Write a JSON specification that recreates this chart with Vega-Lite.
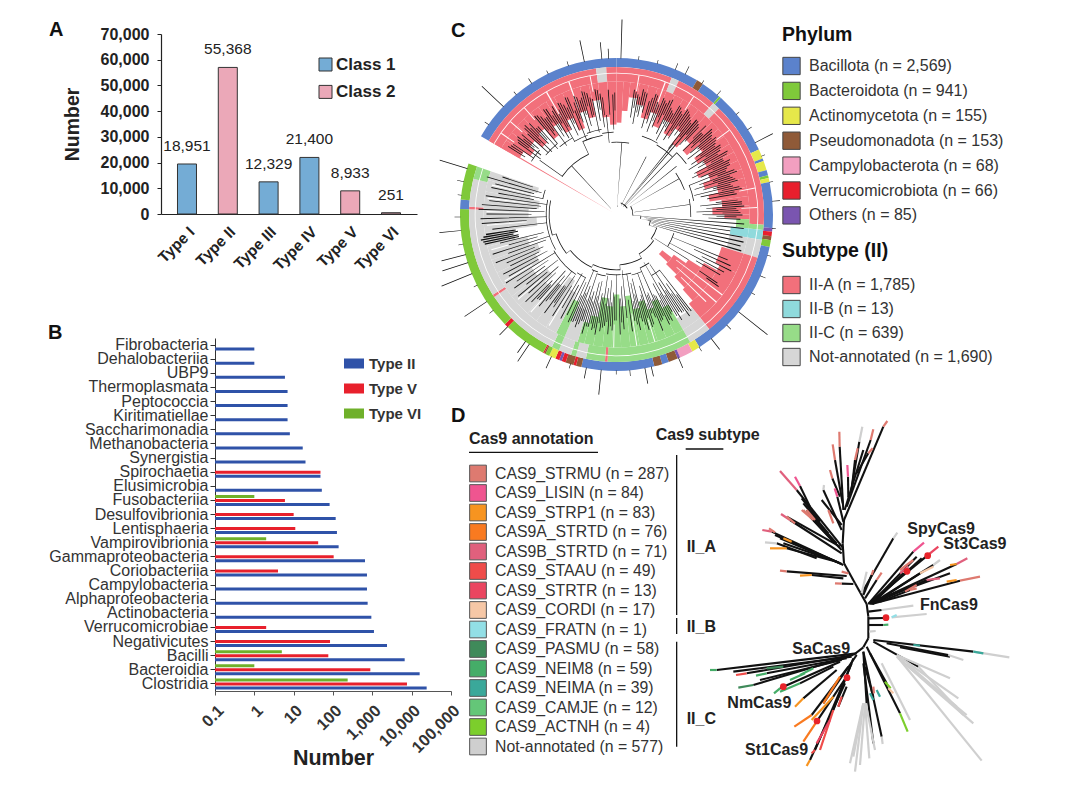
{"$schema":"https://vega.github.io/schema/vega-lite/v6.json","padding":{"left":48,"top":19,"right":0,"bottom":0},"columns":2,"spacing":0,"bounds":"flush","resolve":{"scale":{"color":"independent"},"legend":{"color":"independent"}},"config":{"font":"Liberation Sans","view":{"stroke":null},"legend":{"padding":0,"orient":"none"},"title":{"font":"Liberation Sans","fontSize":20,"fontWeight":"bold","color":"#111","anchor":"start","frame":"group"}},"concat":[
{"title":{"text":"A","dx":-112,"offset":-14},"width":256,"height":180,"data":{"values":[{"type":"Type I","cls":"Class 1","v":19450,"lab":"18,951"},{"type":"Type II","cls":"Class 2","v":57000,"lab":"55,368"},{"type":"Type III","cls":"Class 1","v":12500,"lab":"12,329"},{"type":"Type IV","cls":"Class 1","v":22000,"lab":"21,400"},{"type":"Type V","cls":"Class 2","v":9000,"lab":"8,933"},{"type":"Type VI","cls":"Class 2","v":500,"lab":"251"}]},"encoding":{"x":{"field":"type","type":"nominal","sort":null,"scale":{"paddingInner":0.534,"paddingOuter":0.404},"axis":{"title":null,"labelAngle":-45,"labelAlign":"right","labelBaseline":"top","labelFontWeight":"bold","labelFontSize":15.5,"labelColor":"#222","ticks":false,"labelPadding":10,"labelDx":2,"domainColor":"#222","domainWidth":1.2}},"y":{"field":"v","type":"quantitative","scale":{"domain":[0,70000],"nice":false},"axis":{"title":"Number","titleFontSize":19.5,"titleFontWeight":"bold","titleColor":"#222","titlePadding":18,"values":[0,10000,20000,30000,40000,50000,60000,70000],"labelExpr":"format(datum.value,',')","labelFontWeight":"bold","labelFontSize":16,"labelColor":"#222","grid":false,"tickSize":4,"tickColor":"#222","domainColor":"#222","domainWidth":1.2,"labelPadding":8}}},"layer":[{"mark":{"type":"bar","stroke":"#333","strokeWidth":1},"encoding":{"color":{"field":"cls","type":"nominal","scale":{"domain":["Class 1","Class 2"],"range":["#74acd5","#eba8b8"]},"legend":{"title":null,"legendX":156,"legendY":22,"symbolType":"square","symbolSize":169,"symbolStrokeColor":"#333","symbolStrokeWidth":1,"labelFontSize":17,"labelFontWeight":"bold","labelColor":"#222","labelOffset":2,"rowPadding":9.4}}}},{"mark":{"type":"text","baseline":"bottom","dy":-10,"fontSize":15.5,"color":"#222"},"encoding":{"text":{"field":"lab"}}}]},
{"title":{"text":"C","dx":0,"offset":-21},"width":331,"height":304,"encoding":{"x":{"datum":0,"type":"quantitative","scale":{"domain":[-165.5,165.5],"nice":false},"axis":null},"y":{"datum":0,"type":"quantitative","scale":{"domain":[-180.5,123.5],"nice":false,"reverse":true},"axis":null},"theta":{"field":"a","type":"quantitative","stack":null,"scale":{"domain":[0,360]}},"theta2":{"field":"b"},"radius":{"field":"r","type":"quantitative","scale":{"type":"linear","domain":[0,200],"range":[0,200]}},"radius2":{"field":"s"}},"resolve":{"scale":{"color":"independent"},"legend":{"color":"independent"}},"layer":[
{"data":{"values":[{"a":300,"b":360,"r":147.5,"s":156.5,"p":"Bacillota"},{"a":0,"b":31,"r":147.5,"s":156.5,"p":"Bacillota"},{"a":31,"b":33.5,"r":147.5,"s":156.5,"p":"Pseudomonadota"},{"a":33.5,"b":41,"r":147.5,"s":156.5,"p":"Bacillota"},{"a":41,"b":41.8,"r":147.5,"s":156.5,"p":"Bacteroidota"},{"a":41.8,"b":65.5,"r":147.5,"s":156.5,"p":"Bacillota"},{"a":65.5,"b":69,"r":147.5,"s":156.5,"p":"Actinomycetota"},{"a":69,"b":70,"r":147.5,"s":156.5,"p":"Bacillota"},{"a":70,"b":73.5,"r":147.5,"s":156.5,"p":"Actinomycetota"},{"a":73.5,"b":75.5,"r":147.5,"s":156.5,"p":"Bacillota"},{"a":75.5,"b":76.5,"r":147.5,"s":156.5,"p":"Bacteroidota"},{"a":76.5,"b":78,"r":147.5,"s":156.5,"p":"Actinomycetota"},{"a":78,"b":95,"r":147.5,"s":156.5,"p":"Bacillota"},{"a":95,"b":96.3,"r":147.5,"s":156.5,"p":"Others"},{"a":96.3,"b":98,"r":147.5,"s":156.5,"p":"Verrucomicrobiota"},{"a":98,"b":99.5,"r":147.5,"s":156.5,"p":"Pseudomonadota"},{"a":99.5,"b":102,"r":147.5,"s":156.5,"p":"Bacteroidota"},{"a":102,"b":148,"r":147.5,"s":156.5,"p":"Bacillota"},{"a":148,"b":151,"r":147.5,"s":156.5,"p":"Actinomycetota"},{"a":151,"b":156,"r":147.5,"s":156.5,"p":"Campylobacterota"},{"a":156,"b":157,"r":147.5,"s":156.5,"p":"Others"},{"a":157,"b":160.5,"r":147.5,"s":156.5,"p":"Pseudomonadota"},{"a":160.5,"b":163,"r":147.5,"s":156.5,"p":"Bacillota"},{"a":163,"b":166,"r":147.5,"s":156.5,"p":"Pseudomonadota"},{"a":166,"b":193,"r":147.5,"s":156.5,"p":"Bacillota"},{"a":193,"b":195,"r":147.5,"s":156.5,"p":"Pseudomonadota"},{"a":195,"b":196,"r":147.5,"s":156.5,"p":"Verrucomicrobiota"},{"a":196,"b":199,"r":147.5,"s":156.5,"p":"Pseudomonadota"},{"a":199,"b":200.5,"r":147.5,"s":156.5,"p":"Verrucomicrobiota"},{"a":200.5,"b":201.5,"r":147.5,"s":156.5,"p":"Others"},{"a":201.5,"b":203,"r":147.5,"s":156.5,"p":"Verrucomicrobiota"},{"a":203,"b":205.5,"r":147.5,"s":156.5,"p":"Actinomycetota"},{"a":205.5,"b":207,"r":147.5,"s":156.5,"p":"Bacteroidota"},{"a":207,"b":207.5,"r":147.5,"s":156.5,"p":"Pseudomonadota"},{"a":207.5,"b":208,"r":147.5,"s":156.5,"p":"Verrucomicrobiota"},{"a":208,"b":224,"r":147.5,"s":156.5,"p":"Bacteroidota"},{"a":224,"b":225.5,"r":147.5,"s":156.5,"p":"Verrucomicrobiota"},{"a":225.5,"b":272,"r":147.5,"s":156.5,"p":"Bacteroidota"},{"a":272,"b":275.5,"r":147.5,"s":156.5,"p":"Bacillota"},{"a":275.5,"b":289,"r":147.5,"s":156.5,"p":"Bacteroidota"}]},"mark":{"type":"arc"},"encoding":{"color":{"field":"p","type":"nominal","scale":{"domain":["Bacillota","Bacteroidota","Actinomycetota","Pseudomonadota","Campylobacterota","Verrucomicrobiota","Others"],"range":["#5b82cc","#7fc93a","#e6e84a","#8f5a38","#f29fc0","#e81f2d","#7a55b0"]},"legend":{"title":"Phylum","titleFontSize":19.5,"titleFontWeight":"bold","titleColor":"#111","titlePadding":11,"legendX":331,"legendY":-8,"symbolType":"square","symbolSize":300,"symbolStrokeColor":"#444","symbolStrokeWidth":1,"labelFontSize":16,"labelColor":"#333","labelOffset":8,"labelLimit":300,"rowPadding":1.9,"labelExpr":"{'Bacillota':'Bacillota (n = 2,569)','Bacteroidota':'Bacteroidota (n = 941)','Actinomycetota':'Actinomycetota (n = 155)','Pseudomonadota':'Pseudomonadota (n = 153)','Campylobacterota':'Campylobacterota (n = 68)','Verrucomicrobiota':'Verrucomicrobiota (n = 66)','Others':'Others (n = 85)'}[datum.label]"}}}},
{"data":{"values":[{"a":300,"b":352,"r":133,"s":147.5,"t":"II-A"},{"a":352,"b":356,"r":133,"s":147.5,"t":"Not-annotated"},{"a":356,"b":360,"r":133,"s":147.5,"t":"II-A"},{"a":0,"b":22,"r":133,"s":147.5,"t":"II-A"},{"a":22,"b":25,"r":133,"s":147.5,"t":"Not-annotated"},{"a":25,"b":41,"r":133,"s":147.5,"t":"II-A"},{"a":41,"b":44,"r":133,"s":147.5,"t":"Not-annotated"},{"a":44,"b":94,"r":133,"s":147.5,"t":"II-A"},{"a":94,"b":96,"r":133,"s":147.5,"t":"II-C"},{"a":96,"b":100,"r":133,"s":147.5,"t":"II-B"},{"a":100,"b":107,"r":133,"s":147.5,"t":"Not-annotated"},{"a":107,"b":141,"r":133,"s":147.5,"t":"II-A"},{"a":141,"b":150,"r":133,"s":147.5,"t":"Not-annotated"},{"a":150,"b":183.5,"r":133,"s":147.5,"t":"II-C"},{"a":183.5,"b":184.5,"r":133,"s":147.5,"t":"II-A"},{"a":184.5,"b":192,"r":133,"s":147.5,"t":"II-C"},{"a":192,"b":196,"r":133,"s":147.5,"t":"Not-annotated"},{"a":196,"b":198,"r":133,"s":147.5,"t":"II-C"},{"a":198,"b":203,"r":133,"s":147.5,"t":"Not-annotated"},{"a":203,"b":206,"r":133,"s":147.5,"t":"II-C"},{"a":206,"b":236,"r":133,"s":147.5,"t":"Not-annotated"},{"a":236,"b":237,"r":133,"s":147.5,"t":"II-A"},{"a":237,"b":272,"r":133,"s":147.5,"t":"Not-annotated"},{"a":272,"b":273,"r":133,"s":147.5,"t":"II-A"},{"a":273,"b":284,"r":133,"s":147.5,"t":"Not-annotated"},{"a":284,"b":289,"r":133,"s":147.5,"t":"II-C"},
{"a":300,"b":304,"r":112,"s":133,"t":"II-A"},{"a":304,"b":308,"r":104,"s":133,"t":"II-A"},{"a":308,"b":312,"r":110,"s":133,"t":"II-A"},{"a":312,"b":316,"r":100,"s":133,"t":"II-A"},{"a":316,"b":320,"r":112,"s":133,"t":"II-A"},{"a":320,"b":324,"r":98,"s":133,"t":"II-A"},{"a":324,"b":328,"r":108,"s":133,"t":"II-A"},{"a":328,"b":332,"r":96,"s":133,"t":"II-A"},{"a":332,"b":336,"r":106,"s":133,"t":"II-A"},{"a":336,"b":340,"r":92,"s":133,"t":"II-A"},{"a":340,"b":344,"r":108,"s":133,"t":"II-A"},{"a":344,"b":348,"r":100,"s":133,"t":"II-A"},{"a":348,"b":352,"r":116,"s":133,"t":"II-A"},{"a":352,"b":356,"r":98,"s":133,"t":"II-A"},{"a":356,"b":360,"r":90,"s":133,"t":"II-A"},{"a":0,"b":3,"r":92,"s":133,"t":"II-A"},{"a":3,"b":6,"r":104,"s":133,"t":"II-A"},{"a":6,"b":10,"r":118,"s":133,"t":"II-A"},{"a":10,"b":14,"r":112,"s":133,"t":"II-A"},{"a":14,"b":18,"r":100,"s":133,"t":"II-A"},{"a":18,"b":22,"r":108,"s":133,"t":"II-A"},{"a":22,"b":26,"r":96,"s":133,"t":"II-A"},{"a":26,"b":30,"r":106,"s":133,"t":"II-A"},{"a":30,"b":34,"r":94,"s":133,"t":"II-A"},{"a":34,"b":38,"r":104,"s":133,"t":"II-A"},{"a":38,"b":42,"r":90,"s":133,"t":"II-A"},{"a":42,"b":46,"r":102,"s":133,"t":"II-A"},{"a":46,"b":50,"r":92,"s":133,"t":"II-A"},{"a":50,"b":54,"r":106,"s":133,"t":"II-A"},{"a":54,"b":58,"r":96,"s":133,"t":"II-A"},{"a":58,"b":62,"r":102,"s":133,"t":"II-A"},{"a":62,"b":66,"r":90,"s":133,"t":"II-A"},{"a":66,"b":70,"r":100,"s":133,"t":"II-A"},{"a":70,"b":74,"r":92,"s":133,"t":"II-A"},{"a":74,"b":78,"r":104,"s":133,"t":"II-A"},{"a":78,"b":82,"r":94,"s":133,"t":"II-A"},{"a":82,"b":86,"r":106,"s":133,"t":"II-A"},{"a":86,"b":90,"r":96,"s":133,"t":"II-A"},{"a":90,"b":92,"r":108,"s":133,"t":"II-A"},{"a":92,"b":96,"r":120,"s":133,"t":"II-C"},{"a":96,"b":100,"r":115,"s":133,"t":"II-B"},{"a":100,"b":107,"r":115,"s":133,"t":"Not-annotated"},{"a":107,"b":116,"r":110,"s":133,"t":"II-A"},{"a":128,"b":133,"r":58,"s":70,"t":"II-A"},{"a":125,"b":135,"r":70,"s":85,"t":"II-A"},{"a":122,"b":137,"r":85,"s":100,"t":"II-A"},{"a":119,"b":138.5,"r":100,"s":115,"t":"II-A"},{"a":116,"b":141,"r":115,"s":133,"t":"II-A"},{"a":141,"b":150,"r":120,"s":133,"t":"Not-annotated"},{"a":150,"b":154,"r":104,"s":133,"t":"II-C"},{"a":154,"b":158,"r":94,"s":133,"t":"II-C"},{"a":158,"b":162,"r":100,"s":133,"t":"II-C"},{"a":162,"b":166,"r":90,"s":133,"t":"II-C"},{"a":166,"b":170,"r":96,"s":133,"t":"II-C"},{"a":170,"b":174,"r":82,"s":133,"t":"II-C"},{"a":174,"b":178,"r":92,"s":133,"t":"II-C"},{"a":178,"b":182,"r":80,"s":133,"t":"II-C"},{"a":182,"b":186,"r":92,"s":133,"t":"II-C"},{"a":186,"b":190,"r":84,"s":133,"t":"II-C"},{"a":190,"b":194,"r":104,"s":133,"t":"II-C"},{"a":194,"b":197,"r":112,"s":133,"t":"II-C"},{"a":197,"b":203,"r":100,"s":133,"t":"Not-annotated"},{"a":203,"b":207,"r":95,"s":133,"t":"II-C"},{"a":207,"b":212,"r":88,"s":133,"t":"Not-annotated"},{"a":212,"b":217,"r":78,"s":133,"t":"Not-annotated"},{"a":217,"b":222,"r":90,"s":133,"t":"Not-annotated"},{"a":222,"b":227,"r":98,"s":133,"t":"Not-annotated"},{"a":227,"b":232,"r":88,"s":133,"t":"Not-annotated"},{"a":232,"b":238,"r":100,"s":133,"t":"Not-annotated"},{"a":238,"b":244,"r":90,"s":133,"t":"Not-annotated"},{"a":244,"b":250,"r":84,"s":133,"t":"Not-annotated"},{"a":250,"b":256,"r":92,"s":133,"t":"Not-annotated"},{"a":256,"b":262,"r":104,"s":133,"t":"Not-annotated"},{"a":262,"b":268,"r":80,"s":133,"t":"Not-annotated"},{"a":268,"b":274,"r":88,"s":133,"t":"Not-annotated"},{"a":274,"b":280,"r":78,"s":133,"t":"Not-annotated"},{"a":280,"b":285,"r":88,"s":133,"t":"Not-annotated"},{"a":285,"b":289,"r":82,"s":133,"t":"Not-annotated"},
{"a":300,"b":300.6,"r":5,"s":147,"t":"II-A"},
{"a":300,"b":360,"r":141,"s":141.8,"t":"White"},{"a":0,"b":289,"r":141,"s":141.8,"t":"White"},{"a":127,"b":127.5,"r":75,"s":133,"t":"White"},{"a":131,"b":131.5,"r":80,"s":133,"t":"White"},{"a":134,"b":134.5,"r":90,"s":125,"t":"White"},{"a":211,"b":211.5,"r":90,"s":130,"t":"White"},{"a":221,"b":221.5,"r":90,"s":130,"t":"White"},{"a":229,"b":229.5,"r":98,"s":130,"t":"White"},{"a":239,"b":239.5,"r":98,"s":130,"t":"White"},{"a":248,"b":248.5,"r":90,"s":128,"t":"White"},{"a":254,"b":254.5,"r":90,"s":130,"t":"White"},{"a":265,"b":265.5,"r":90,"s":130,"t":"White"},{"a":271,"b":271.5,"r":85,"s":130,"t":"White"},{"a":277,"b":277.5,"r":90,"s":130,"t":"White"},{"a":283,"b":283.5,"r":85,"s":128,"t":"White"},{"a":305,"b":305.4,"r":125,"s":141,"t":"White"},{"a":311,"b":311.4,"r":125,"s":141,"t":"White"},{"a":319,"b":319.4,"r":125,"s":141,"t":"White"},{"a":330,"b":330.5,"r":112,"s":141,"t":"White"},{"a":340,"b":340.5,"r":112,"s":141,"t":"White"},{"a":349,"b":349.4,"r":125,"s":141,"t":"White"},{"a":9,"b":9.4,"r":125,"s":141,"t":"White"},{"a":20,"b":20.5,"r":112,"s":141,"t":"White"},{"a":33,"b":33.4,"r":125,"s":141,"t":"White"},{"a":53,"b":53.4,"r":125,"s":141,"t":"White"},{"a":79,"b":79.4,"r":125,"s":141,"t":"White"},{"a":87,"b":87.4,"r":125,"s":141,"t":"White"},{"a":163,"b":163.4,"r":110,"s":133,"t":"White"},{"a":171,"b":171.4,"r":100,"s":133,"t":"White"},{"a":181,"b":181.4,"r":110,"s":133,"t":"White"}]},"mark":{"type":"arc"},"encoding":{"color":{"field":"t","type":"nominal","scale":{"domain":["II-A","II-B","II-C","Not-annotated","White"],"range":["#f2707b","#8fdadc","#97dc88","#d6d6d6","#ffffff"]},"legend":{"title":"Subtype (II)","values":["II-A","II-B","II-C","Not-annotated"],"titleFontSize":19.5,"titleFontWeight":"bold","titleColor":"#111","titlePadding":14,"legendX":331,"legendY":208,"symbolType":"square","symbolSize":300,"symbolStrokeColor":"#444","symbolStrokeWidth":1,"labelFontSize":16,"labelColor":"#333","labelOffset":8,"labelLimit":300,"rowPadding":1,"labelExpr":"{'II-A':'II-A (n = 1,785)','II-B':'II-B (n = 13)','II-C':'II-C (n = 639)','Not-annotated':'Not-annotated (n = 1,690)'}[datum.label]"}}}},
{"data":{"values":[{"a":317,"b":317.5,"r":8,"s":66},{"a":305,"b":335,"r":66,"s":66.8},{"a":305,"b":305.4,"r":66,"s":94},{"a":335,"b":335.4,"r":66,"s":80},{"a":335,"b":350,"r":80,"s":80.8},{"a":4,"b":4.5,"r":8,"s":72},{"a":356,"b":360,"r":72,"s":72.8},{"a":0,"b":10,"r":72,"s":72.8},{"a":27,"b":27.5,"r":10,"s":65},{"a":38.5,"b":39,"r":10,"s":91},{"a":40,"b":40.5,"r":10,"s":124},{"a":44,"b":44.5,"r":12,"s":86},{"a":51,"b":51.5,"r":12,"s":77},{"a":60,"b":60.5,"r":14,"s":72},{"a":82,"b":82.5,"r":18,"s":74},{"a":6,"b":10,"r":8,"s":8.8},{"a":20,"b":60,"r":12,"s":12.8},{"a":60,"b":93,"r":16,"s":16.8},{"a":93,"b":100,"r":24,"s":24.8},{"a":93,"b":93.5,"r":16,"s":24},{"a":100,"b":100.4,"r":24,"s":34},{"a":100,"b":108,"r":34,"s":34.8},{"a":108,"b":108.4,"r":34,"s":42},{"a":108,"b":125,"r":42,"s":42.8},{"a":125,"b":125.4,"r":42,"s":45},{"a":125,"b":150,"r":45,"s":45.8},{"a":150,"b":150.4,"r":45,"s":50},{"a":150,"b":176,"r":50,"s":50.8},{"a":176,"b":176.4,"r":50,"s":55},{"a":176,"b":205,"r":55,"s":55.8},{"a":205,"b":205.4,"r":55,"s":58},{"a":205,"b":232,"r":58,"s":58.8},{"a":232,"b":232.4,"r":58,"s":63},{"a":232,"b":252,"r":63,"s":63.8},{"a":252,"b":252.4,"r":63,"s":67},{"a":252,"b":282,"r":67,"s":67.8},
{"a":302,"b":310,"r":100,"s":100.7},{"a":310,"b":320,"r":92,"s":92.7},{"a":320,"b":330,"r":88,"s":88.7},{"a":330,"b":340,"r":84,"s":84.7},{"a":340,"b":350,"r":86,"s":86.7},{"a":350,"b":358,"r":82,"s":82.7},{"a":18,"b":30,"r":82,"s":82.7},{"a":30,"b":44,"r":80,"s":80.7},{"a":44,"b":54,"r":86,"s":86.7},{"a":55,"b":70,"r":72,"s":72.7},{"a":68,"b":80,"r":78,"s":78.7},{"a":78,"b":92,"r":74,"s":74.7},{"a":108,"b":122,"r":60,"s":60.7},{"a":142,"b":150,"r":70,"s":70.7},{"a":146,"b":156,"r":58,"s":58.7},{"a":156,"b":166,"r":62,"s":62.7},{"a":166,"b":175,"r":60,"s":60.7},{"a":176,"b":190,"r":60,"s":60.7},{"a":190,"b":198,"r":62,"s":62.7},{"a":198,"b":204,"r":60,"s":60.7},{"a":206,"b":214,"r":70,"s":70.7},{"a":214,"b":225,"r":72,"s":72.7},{"a":225,"b":240,"r":72,"s":72.7},{"a":240,"b":252,"r":70,"s":70.7},{"a":252,"b":262,"r":70,"s":70.7},{"a":262,"b":272,"r":70,"s":70.7},{"a":272,"b":282,"r":70,"s":70.7},{"a":282,"b":289,"r":75,"s":75.7},
{"a":302,"b":302.4,"r":108,"s":128},{"a":304,"b":304.4,"r":100,"s":125},{"a":306,"b":306.4,"r":94,"s":122},{"a":308,"b":308.4,"r":96,"s":126},{"a":310,"b":310.4,"r":102,"s":124},{"a":312,"b":312.4,"r":92,"s":120},{"a":314,"b":314.4,"r":90,"s":128},{"a":316,"b":316.4,"r":98,"s":126},{"a":318,"b":318.4,"r":88,"s":118},{"a":320,"b":320.4,"r":92,"s":128},{"a":322,"b":322.4,"r":100,"s":124},{"a":324,"b":324.4,"r":85,"s":120},{"a":326,"b":326.4,"r":94,"s":127},{"a":328,"b":328.4,"r":90,"s":122},{"a":330,"b":330.4,"r":84,"s":116},{"a":332,"b":332.4,"r":96,"s":126},{"a":334,"b":334.4,"r":88,"s":122},{"a":336,"b":336.4,"r":92,"s":128},{"a":338,"b":338.4,"r":80,"s":112},{"a":340,"b":340.4,"r":98,"s":126},{"a":342,"b":342.4,"r":86,"s":120},{"a":344,"b":344.4,"r":92,"s":128},{"a":346,"b":346.4,"r":100,"s":125},{"a":348,"b":348.4,"r":84,"s":118},{"a":350,"b":350.4,"r":95,"s":127},{"a":352,"b":352.4,"r":88,"s":122},{"a":354,"b":354.4,"r":72,"s":100},{"a":356,"b":356.4,"r":100,"s":125},{"a":358,"b":358.4,"r":85,"s":120},
{"a":303,"b":303.35,"r":112,"s":126},{"a":307,"b":307.35,"r":110,"s":124},{"a":309,"b":309.35,"r":106,"s":120},{"a":313,"b":313.35,"r":104,"s":126},{"a":315,"b":315.35,"r":110,"s":122},{"a":317,"b":317.35,"r":102,"s":118},{"a":321,"b":321.35,"r":108,"s":127},{"a":323,"b":323.35,"r":104,"s":120},{"a":325,"b":325.35,"r":112,"s":128},{"a":327,"b":327.35,"r":100,"s":118},{"a":329,"b":329.35,"r":106,"s":126},{"a":331,"b":331.35,"r":100,"s":120},{"a":333,"b":333.35,"r":108,"s":125},{"a":335,"b":335.35,"r":100,"s":118},{"a":337,"b":337.35,"r":110,"s":127},{"a":339,"b":339.35,"r":102,"s":120},{"a":341,"b":341.35,"r":108,"s":124},{"a":343,"b":343.35,"r":104,"s":122},{"a":345,"b":345.35,"r":112,"s":127},{"a":347,"b":347.35,"r":102,"s":120},{"a":351,"b":351.35,"r":106,"s":126},{"a":353,"b":353.35,"r":100,"s":118},{"a":359,"b":359.35,"r":104,"s":122},{"a":9,"b":9.35,"r":108,"s":124},{"a":11,"b":11.35,"r":104,"s":120},{"a":13,"b":13.35,"r":110,"s":126},{"a":17,"b":17.35,"r":104,"s":122},{"a":19,"b":19.35,"r":108,"s":126},{"a":21,"b":21.35,"r":100,"s":118},{"a":23,"b":23.35,"r":106,"s":124},{"a":25,"b":25.35,"r":110,"s":126},{"a":27,"b":27.35,"r":102,"s":120},{"a":29,"b":29.35,"r":100,"s":116},{"a":31,"b":31.35,"r":106,"s":125},{"a":33,"b":33.35,"r":100,"s":120},{"a":35,"b":35.35,"r":108,"s":126},{"a":37,"b":37.35,"r":104,"s":122},{"a":39,"b":39.35,"r":100,"s":118},{"a":41,"b":41.35,"r":106,"s":124},{"a":43,"b":43.35,"r":100,"s":120},{"a":45,"b":45.35,"r":108,"s":126},{"a":47,"b":47.35,"r":104,"s":118},{"a":49,"b":49.35,"r":110,"s":126},{"a":51,"b":51.35,"r":104,"s":122},{"a":53,"b":53.35,"r":108,"s":124},{"a":55,"b":55.35,"r":102,"s":120},{"a":57,"b":57.35,"r":106,"s":124},{"a":59,"b":59.35,"r":100,"s":118},{"a":61,"b":61.35,"r":108,"s":126},{"a":63,"b":63.35,"r":102,"s":120},{"a":65,"b":65.35,"r":106,"s":124},{"a":67,"b":67.35,"r":100,"s":120},{"a":69,"b":69.35,"r":108,"s":126},{"a":71,"b":71.35,"r":102,"s":120},{"a":73,"b":73.35,"r":106,"s":124},{"a":75,"b":75.35,"r":100,"s":118},{"a":77,"b":77.35,"r":108,"s":126},{"a":79,"b":79.35,"r":104,"s":120},{"a":83,"b":83.35,"r":100,"s":122},{"a":85,"b":85.35,"r":106,"s":126},{"a":87,"b":87.35,"r":100,"s":120},{"a":89,"b":89.35,"r":106,"s":124},{"a":91,"b":91.35,"r":100,"s":120},{"a":143,"b":143.35,"r":100,"s":120},{"a":145,"b":145.35,"r":96,"s":118},{"a":147,"b":147.35,"r":90,"s":116},{"a":149,"b":149.35,"r":94,"s":118},{"a":151,"b":151.35,"r":90,"s":114},{"a":153,"b":153.35,"r":96,"s":118},{"a":155,"b":155.35,"r":88,"s":112},{"a":157,"b":157.35,"r":92,"s":116},{"a":159,"b":159.35,"r":86,"s":110},{"a":161,"b":161.35,"r":94,"s":116},{"a":163,"b":163.35,"r":84,"s":108},{"a":165,"b":165.35,"r":90,"s":114},{"a":167,"b":167.35,"r":82,"s":106},{"a":169,"b":169.35,"r":88,"s":112},{"a":177,"b":177.35,"r":84,"s":108},{"a":181,"b":181.35,"r":82,"s":106},{"a":183,"b":183.35,"r":88,"s":112},{"a":185,"b":185.35,"r":84,"s":108},{"a":187,"b":187.35,"r":90,"s":114},{"a":189,"b":189.35,"r":84,"s":110},{"a":191,"b":191.35,"r":90,"s":116},{"a":193,"b":193.35,"r":84,"s":112},{"a":195,"b":195.35,"r":90,"s":116},{"a":197,"b":197.35,"r":86,"s":112},{"a":199,"b":199.35,"r":90,"s":116},{"a":201,"b":201.35,"r":84,"s":114},{"a":203,"b":203.35,"r":88,"s":116},{"a":215,"b":215.35,"r":88,"s":108},{"a":219,"b":219.35,"r":90,"s":112},{"a":223,"b":223.35,"r":96,"s":116},
{"a":8,"b":8.4,"r":98,"s":126},{"a":10,"b":10.4,"r":92,"s":122},{"a":12,"b":12.4,"r":100,"s":128},{"a":14,"b":14.4,"r":105,"s":125},{"a":16,"b":16.4,"r":90,"s":118},{"a":18,"b":18.4,"r":96,"s":127},{"a":20,"b":20.4,"r":88,"s":120},{"a":22,"b":22.4,"r":94,"s":126},{"a":24,"b":24.4,"r":100,"s":122},{"a":26,"b":26.4,"r":90,"s":128},{"a":28,"b":28.4,"r":84,"s":118},{"a":30,"b":30.4,"r":96,"s":126},{"a":32,"b":32.4,"r":88,"s":122},{"a":34,"b":34.4,"r":92,"s":127},{"a":36,"b":36.4,"r":98,"s":124},{"a":38,"b":38.4,"r":84,"s":120},{"a":42,"b":42.4,"r":94,"s":122},{"a":46,"b":46.4,"r":92,"s":118},{"a":48,"b":48.4,"r":100,"s":128},{"a":50,"b":50.4,"r":96,"s":124},{"a":52,"b":52.4,"r":90,"s":126},{"a":54,"b":54.4,"r":98,"s":122},
{"a":56,"b":56.4,"r":90,"s":125},{"a":58,"b":58.4,"r":85,"s":122},{"a":60,"b":60.4,"r":94,"s":128},{"a":62,"b":62.4,"r":88,"s":120},{"a":64,"b":64.4,"r":84,"s":126},{"a":66,"b":66.4,"r":92,"s":124},{"a":68,"b":68.4,"r":78,"s":118},{"a":70,"b":70.4,"r":88,"s":128},{"a":72,"b":72.4,"r":82,"s":122},{"a":74,"b":74.4,"r":90,"s":126},{"a":76,"b":76.4,"r":80,"s":120},{"a":78,"b":78.4,"r":86,"s":128},{"a":80,"b":80.4,"r":92,"s":122},{"a":84,"b":84.4,"r":84,"s":126},{"a":86,"b":86.4,"r":90,"s":128},{"a":88,"b":88.4,"r":80,"s":122},{"a":90,"b":90.4,"r":86,"s":126},{"a":92,"b":92.4,"r":92,"s":124},
{"a":94,"b":94.5,"r":25,"s":128},{"a":96,"b":96.5,"r":28,"s":128},{"a":98,"b":98.4,"r":30,"s":115},{"a":100,"b":100.5,"r":32,"s":128},{"a":102,"b":102.5,"r":34,"s":130},{"a":104,"b":104.5,"r":36,"s":128},{"a":106,"b":106.5,"r":38,"s":130},
{"a":112,"b":112.4,"r":60,"s":120},{"a":114,"b":114.4,"r":85,"s":125},{"a":116,"b":116.4,"r":95,"s":128},{"a":118,"b":118.4,"r":60,"s":122},{"a":120,"b":120.4,"r":92,"s":120},{"a":122,"b":122.4,"r":45,"s":85},{"a":124,"b":124.4,"r":100,"s":122},{"a":125,"b":125.4,"r":110,"s":125},
{"a":142,"b":142.4,"r":70,"s":122},{"a":144,"b":144.4,"r":85,"s":125},{"a":146,"b":146.4,"r":60,"s":118},{"a":148,"b":148.4,"r":80,"s":124},{"a":150,"b":150.4,"r":55,"s":112},{"a":152,"b":152.4,"r":78,"s":120},{"a":154,"b":154.4,"r":90,"s":122},{"a":156,"b":156.4,"r":58,"s":115},{"a":158,"b":158.4,"r":84,"s":125},{"a":160,"b":160.4,"r":62,"s":105},{"a":162,"b":162.4,"r":75,"s":118},{"a":164,"b":164.4,"r":88,"s":120},{"a":166,"b":166.4,"r":66,"s":110},{"a":168,"b":168.4,"r":70,"s":118},{"a":170,"b":170.4,"r":60,"s":108},{"a":172,"b":172.4,"r":86,"s":118},{"a":174,"b":174.4,"r":56,"s":104},{"a":176,"b":176.4,"r":72,"s":115},{"a":178,"b":178.4,"r":84,"s":120},{"a":180,"b":180.4,"r":60,"s":106},{"a":182,"b":182.4,"r":78,"s":116},{"a":184,"b":184.4,"r":66,"s":120},{"a":186,"b":186.4,"r":74,"s":112},{"a":188,"b":188.4,"r":62,"s":118},{"a":190,"b":190.4,"r":80,"s":122},{"a":192,"b":192.4,"r":68,"s":118},{"a":194,"b":194.4,"r":70,"s":116},{"a":196,"b":196.4,"r":80,"s":124},{"a":198,"b":198.4,"r":62,"s":112},{"a":200,"b":200.4,"r":76,"s":120},{"a":202,"b":202.4,"r":60,"s":116},{"a":204,"b":204.4,"r":74,"s":118},
{"a":206,"b":206.4,"r":70,"s":112},{"a":208,"b":208.4,"r":80,"s":118},{"a":210,"b":210.4,"r":68,"s":108},{"a":212,"b":212.4,"r":84,"s":120},{"a":214,"b":214.4,"r":74,"s":112},{"a":216,"b":216.4,"r":88,"s":122},{"a":218,"b":218.4,"r":72,"s":108},{"a":220,"b":220.4,"r":80,"s":120},{"a":222,"b":222.4,"r":76,"s":115},{"a":224,"b":224.4,"r":92,"s":122},{"a":226,"b":226.4,"r":84,"s":126},{"a":228,"b":228.4,"r":78,"s":118},{"a":230,"b":230.4,"r":90,"s":128},{"a":232,"b":232.4,"r":74,"s":114},{"a":234,"b":234.4,"r":88,"s":126},{"a":236,"b":236.4,"r":82,"s":120},{"a":238,"b":238.4,"r":72,"s":130},{"a":240,"b":240.4,"r":90,"s":124},{"a":242,"b":242.4,"r":78,"s":128},{"a":244,"b":244.4,"r":86,"s":118},{"a":246,"b":246.4,"r":80,"s":120},{"a":248,"b":248.4,"r":88,"s":130},{"a":250,"b":250.4,"r":75,"s":115},{"a":252,"b":252.4,"r":70,"s":130},{"a":254,"b":254.4,"r":82,"s":112},{"a":256,"b":256.4,"r":75,"s":120},{"a":257,"b":257.6,"r":100,"s":135},{"a":258,"b":258.6,"r":100,"s":136},{"a":259,"b":259.6,"r":105,"s":138},{"a":260,"b":260.6,"r":100,"s":135},{"a":261,"b":261.6,"r":102,"s":132},{"a":263,"b":263.4,"r":70,"s":125},{"a":266,"b":266.4,"r":90,"s":135},{"a":268,"b":268.4,"r":70,"s":136},{"a":270,"b":270.4,"r":85,"s":130},{"a":272,"b":272.4,"r":72,"s":138},{"a":274,"b":274.4,"r":80,"s":135},{"a":276,"b":276.4,"r":76,"s":128},{"a":278,"b":278.4,"r":70,"s":132},{"a":280,"b":280.4,"r":84,"s":120},{"a":282,"b":282.4,"r":75,"s":128},{"a":284,"b":284.4,"r":85,"s":125},{"a":286,"b":286.4,"r":78,"s":135},{"a":288,"b":288.4,"r":88,"s":120},
{"a":1.5,"b":1.75,"r":156,"s":195},{"a":354.5,"b":354.75,"r":156,"s":173},{"a":348,"b":348.25,"r":156,"s":178},{"a":357,"b":357.25,"r":156,"s":166},{"a":313.5,"b":313.75,"r":156,"s":186},{"a":62.5,"b":62.75,"r":156,"s":176},{"a":85,"b":85.25,"r":156,"s":164},{"a":128.4,"b":128.65,"r":156,"s":193},{"a":142.5,"b":142.75,"r":156,"s":170},{"a":185.5,"b":185.75,"r":156,"s":181},{"a":169.4,"b":169.65,"r":156,"s":172},{"a":167,"b":167.25,"r":156,"s":166},{"a":156.5,"b":156.75,"r":156,"s":167},{"a":191,"b":191.25,"r":156,"s":167},{"a":204.5,"b":204.75,"r":156,"s":169},{"a":213.8,"b":214.05,"r":156,"s":177},{"a":215.5,"b":215.75,"r":156,"s":170},{"a":224,"b":224.25,"r":156,"s":168},{"a":236,"b":236.25,"r":156,"s":183},{"a":247.6,"b":247.85,"r":156,"s":189},{"a":251.9,"b":252.15,"r":156,"s":183},{"a":255,"b":255.25,"r":156,"s":181},{"a":264,"b":264.25,"r":156,"s":178},{"a":287,"b":287.25,"r":156,"s":185},
{"a":305,"b":305.2,"r":156,"s":161},{"a":320,"b":320.2,"r":156,"s":160},{"a":327,"b":327.2,"r":156,"s":162},{"a":334,"b":334.2,"r":156,"s":160},{"a":342,"b":342.2,"r":156,"s":161},{"a":8,"b":8.2,"r":156,"s":160},{"a":15,"b":15.2,"r":156,"s":160},{"a":22,"b":22.2,"r":156,"s":163},{"a":26,"b":26.2,"r":156,"s":165},{"a":33,"b":33.2,"r":156,"s":160},{"a":40,"b":40.2,"r":156,"s":162},{"a":50,"b":50.2,"r":156,"s":160},{"a":57,"b":57.2,"r":156,"s":161},{"a":68,"b":68.2,"r":156,"s":160},{"a":78,"b":78.2,"r":156,"s":160},{"a":95,"b":95.2,"r":156,"s":160},{"a":105,"b":105.2,"r":156,"s":160},{"a":113,"b":113.2,"r":156,"s":162},{"a":120,"b":120.2,"r":156,"s":160},{"a":135,"b":135.2,"r":156,"s":162},{"a":148,"b":148.2,"r":156,"s":161},{"a":175,"b":175.2,"r":156,"s":162},{"a":180,"b":180.2,"r":156,"s":160},{"a":197,"b":197.2,"r":156,"s":161},{"a":232,"b":232.2,"r":156,"s":161},{"a":243,"b":243.2,"r":156,"s":160},{"a":259,"b":259.2,"r":156,"s":161},{"a":269,"b":269.2,"r":156,"s":162},{"a":277,"b":277.2,"r":156,"s":160},{"a":282,"b":282.2,"r":156,"s":163}]},"mark":{"type":"arc","color":"#111"}}]},
{"title":{"text":"B","dx":-113,"offset":-6},"width":290,"height":353,"data":{"values":[{"c":"Fibrobacteria","t":"Type II","n":1},{"c":"Dehalobacteriia","t":"Type II","n":1},{"c":"UBP9","t":"Type II","n":6},{"c":"Thermoplasmata","t":"Type II","n":7},{"c":"Peptococcia","t":"Type II","n":7},{"c":"Kiritimatiellae","t":"Type II","n":7},{"c":"Saccharimonadia","t":"Type II","n":8},{"c":"Methanobacteria","t":"Type II","n":17},{"c":"Synergistia","t":"Type II","n":20},{"c":"Spirochaetia","t":"Type II","n":48},{"c":"Spirochaetia","t":"Type V","n":48},{"c":"Elusimicrobia","t":"Type II","n":52},{"c":"Fusobacteriia","t":"Type II","n":82},{"c":"Fusobacteriia","t":"Type V","n":6},{"c":"Fusobacteriia","t":"Type VI","n":1},{"c":"Desulfovibrionia","t":"Type II","n":117},{"c":"Desulfovibrionia","t":"Type V","n":10},{"c":"Lentisphaeria","t":"Type II","n":126},{"c":"Lentisphaeria","t":"Type V","n":11},{"c":"Vampirovibrionia","t":"Type II","n":139},{"c":"Vampirovibrionia","t":"Type V","n":42},{"c":"Vampirovibrionia","t":"Type VI","n":2},{"c":"Gammaproteobacteria","t":"Type II","n":651},{"c":"Gammaproteobacteria","t":"Type V","n":104},{"c":"Coriobacteriia","t":"Type II","n":731},{"c":"Coriobacteriia","t":"Type V","n":4},{"c":"Campylobacteria","t":"Type II","n":731},{"c":"Alphaproteobacteria","t":"Type II","n":760},{"c":"Actinobacteria","t":"Type II","n":944},{"c":"Verrucomicrobiae","t":"Type II","n":1100},{"c":"Verrucomicrobiae","t":"Type V","n":2},{"c":"Negativicutes","t":"Type II","n":2360},{"c":"Negativicutes","t":"Type V","n":84},{"c":"Bacilli","t":"Type II","n":6640},{"c":"Bacilli","t":"Type V","n":76},{"c":"Bacilli","t":"Type VI","n":5},{"c":"Bacteroidia","t":"Type II","n":15960},{"c":"Bacteroidia","t":"Type V","n":889},{"c":"Bacteroidia","t":"Type VI","n":1},{"c":"Clostridia","t":"Type II","n":24050},{"c":"Clostridia","t":"Type V","n":7600},{"c":"Clostridia","t":"Type VI","n":236}]},"mark":{"type":"bar","height":3},"encoding":{"y":{"field":"c","type":"nominal","scale":{"domain":["Fibrobacteria","Dehalobacteriia","UBP9","Thermoplasmata","Peptococcia","Kiritimatiellae","Saccharimonadia","Methanobacteria","Synergistia","Spirochaetia","Elusimicrobia","Fusobacteriia","Desulfovibrionia","Lentisphaeria","Vampirovibrionia","Gammaproteobacteria","Coriobacteriia","Campylobacteria","Alphaproteobacteria","Actinobacteria","Verrucomicrobiae","Negativicutes","Bacilli","Bacteroidia","Clostridia"],"padding":0},"axis":{"title":null,"offset":-54,"labelFontSize":16,"labelColor":"#333","labelPadding":2,"tickSize":5,"tickColor":"#333","domainColor":"#333","labelLimit":300,"labelOverlap":false}},"yOffset":{"field":"t","scale":{"domain":["Type VI","Type V","Type II"],"paddingInner":0.25,"paddingOuter":0.39}},"x":{"field":"n","type":"quantitative","scale":{"type":"log","domain":[0.1,100000],"range":[54,290],"nice":false},"axis":{"values":[0.1,1,10,100,1000,10000,100000],"labelExpr":"format(datum.value,datum.value<1?'.1f':',')","labelOverlap":false,"title":"Number","titleFontSize":21.5,"titleFontWeight":"bold","titleColor":"#222","titlePadding":-8,"labelAngle":-45,"labelAlign":"right","labelBaseline":"top","labelFontSize":16.5,"labelFontWeight":"bold","labelColor":"#333","labelDx":4,"tickSize":4,"tickColor":"#555","domainColor":"#555","grid":false,"labelPadding":7}},"x2":{"datum":0.1},"color":{"field":"t","type":"nominal","scale":{"domain":["Type II","Type V","Type VI"],"range":["#2f52a8","#e8202c","#6fb02a"]},"legend":{"title":null,"legendX":182,"legendY":13,"symbolType":"M-1,-0.5H1V0.5H-1Z","symbolSize":400,"clipHeight":25,"labelFontSize":15,"labelFontWeight":"bold","labelColor":"#333","labelOffset":4,"rowPadding":0}}}},
{"title":{"text":"D","dx":0,"offset":-88},"width":589,"height":454,"encoding":{"x":{"field":"x","type":"quantitative","scale":{"domain":[-747,1020],"nice":false},"axis":null},"y":{"field":"y","type":"quantitative","scale":{"domain":[-216,1146],"nice":false,"reverse":true},"axis":null}},"resolve":{"scale":{"color":"independent"},"legend":{"color":"independent"}},"layer":[
{"data":{"values":[{"x":-693,"y":127,"u":-306,"v":127},{"x":-43,"y":117,"u":70,"v":117},{"x":-70,"y":135,"u":-70,"v":615},{"x":-70,"y":624,"u":-70,"v":672},{"x":-70,"y":695,"u":-70,"v":1010}]},"mark":{"type":"rule","color":"#111","strokeWidth":1.3},"encoding":{"x2":{"field":"u"},"y2":{"field":"v"}}},
{"data":{"values":[{"x":432,"y":330,"u":428,"v":400},{"x":428,"y":400,"u":432,"v":460},{"x":432,"y":460,"u":465,"v":520},{"x":465,"y":520,"u":500,"v":582},{"x":500,"y":582,"u":505,"v":620},{"x":505,"y":620,"u":505,"v":685},{"x":505,"y":685,"u":490,"v":712},{"x":490,"y":712,"u":460,"v":735},{"x":432,"y":330,"u":550,"v":50},{"x":440,"y":290,"u":512,"v":90},{"x":452,"y":250,"u":478,"v":95},{"x":430,"y":300,"u":419,"v":110},{"x":428,"y":280,"u":405,"v":150},{"x":420,"y":260,"u":397,"v":205},{"x":445,"y":262,"u":444,"v":200},{"x":455,"y":240,"u":465,"v":150},{"x":470,"y":190,"u":505,"v":130},{"x":430,"y":335,"u":412,"v":260},{"x":434,"y":300,"u":490,"v":120},{"x":430,"y":415,"u":290,"v":240},{"x":330,"y":290,"u":300,"v":228},{"x":425,"y":360,"u":370,"v":240},{"x":425,"y":345,"u":365,"v":270},{"x":425,"y":420,"u":340,"v":330},{"x":425,"y":430,"u":270,"v":330},{"x":400,"y":395,"u":330,"v":320},{"x":385,"y":370,"u":310,"v":280},{"x":360,"y":335,"u":305,"v":265},{"x":410,"y":400,"u":320,"v":300},{"x":420,"y":410,"u":260,"v":320},{"x":430,"y":465,"u":215,"v":365},{"x":420,"y":460,"u":240,"v":385},{"x":410,"y":455,"u":260,"v":415},{"x":350,"y":445,"u":230,"v":400},{"x":395,"y":450,"u":250,"v":400},{"x":425,"y":462,"u":225,"v":375},{"x":440,"y":498,"u":260,"v":484},{"x":430,"y":505,"u":335,"v":495},{"x":460,"y":522,"u":425,"v":521},{"x":485,"y":550,"u":580,"v":385},{"x":490,"y":555,"u":515,"v":495},{"x":495,"y":565,"u":530,"v":510},{"x":505,"y":582,"u":640,"v":425},{"x":505,"y":582,"u":690,"v":430},{"x":510,"y":580,"u":625,"v":480},{"x":510,"y":582,"u":770,"v":462},{"x":515,"y":582,"u":780,"v":512},{"x":520,"y":580,"u":680,"v":510},{"x":525,"y":575,"u":700,"v":465},{"x":540,"y":575,"u":630,"v":540},{"x":515,"y":578,"u":650,"v":440},{"x":520,"y":578,"u":610,"v":490},{"x":530,"y":570,"u":750,"v":490},{"x":512,"y":582,"u":665,"v":445},{"x":518,"y":582,"u":660,"v":490},{"x":505,"y":605,"u":545,"v":600},{"x":505,"y":625,"u":550,"v":624},{"x":505,"y":645,"u":550,"v":645},{"x":520,"y":690,"u":820,"v":725},{"x":560,"y":700,"u":745,"v":735},{"x":600,"y":712,"u":750,"v":740},{"x":520,"y":695,"u":655,"v":770},{"x":500,"y":710,"u":600,"v":910},{"x":490,"y":725,"u":545,"v":980},{"x":490,"y":760,"u":520,"v":1000},{"x":490,"y":725,"u":500,"v":880},{"x":495,"y":770,"u":520,"v":860},{"x":510,"y":730,"u":560,"v":820},{"x":470,"y":730,"u":50,"v":780},{"x":460,"y":735,"u":140,"v":790},{"x":440,"y":745,"u":200,"v":790},{"x":430,"y":745,"u":160,"v":825},{"x":420,"y":755,"u":240,"v":835},{"x":400,"y":770,"u":300,"v":820},{"x":410,"y":780,"u":310,"v":865},{"x":445,"y":770,"u":335,"v":915},{"x":440,"y":800,"u":350,"v":935},{"x":455,"y":760,"u":345,"v":1020},{"x":460,"y":745,"u":400,"v":900},{"x":435,"y":820,"u":330,"v":1050},{"x":440,"y":830,"u":415,"v":890},{"x":470,"y":735,"u":370,"v":880},{"x":455,"y":740,"u":100,"v":785},{"x":425,"y":750,"u":180,"v":810}]},"mark":{"type":"rule","color":"#111","strokeWidth":2.1},"encoding":{"x2":{"field":"u"},"y2":{"field":"v"}}},
{"data":{"values":[{"x":550,"y":50,"u":562,"v":33,"k":"STRMU"},{"x":512,"y":90,"u":520,"v":58,"k":"STRMU"},{"x":478,"y":95,"u":487,"v":50,"k":"NA"},{"x":419,"y":110,"u":418,"v":65,"k":"STRMU"},{"x":405,"y":150,"u":398,"v":103,"k":"STRMU"},{"x":397,"y":205,"u":390,"v":180,"k":"STRMU"},{"x":444,"y":200,"u":442,"v":165,"k":"LISIN"},{"x":465,"y":150,"u":473,"v":115,"k":"STRMU"},{"x":505,"y":130,"u":518,"v":115,"k":"STRMU"},{"x":412,"y":260,"u":404,"v":235,"k":"LISIN"},{"x":290,"y":240,"u":240,"v":183,"k":"9B"},{"x":300,"y":228,"u":285,"v":200,"k":"LISIN"},{"x":370,"y":240,"u":372,"v":225,"k":"NA"},{"x":340,"y":330,"u":305,"v":300,"k":"STRMU"},{"x":270,"y":330,"u":243,"v":312,"k":"9B"},{"x":330,"y":320,"u":310,"v":300,"k":"STRMU"},{"x":400,"y":340,"u":385,"v":300,"k":"STRMU"},{"x":215,"y":365,"u":187,"v":360,"k":"9B"},{"x":225,"y":367,"u":207,"v":355,"k":"STRMU"},{"x":260,"y":415,"u":210,"v":415,"k":"STRP1"},{"x":230,"y":400,"u":195,"v":397,"k":"NA"},{"x":260,"y":484,"u":240,"v":482,"k":"STRMU"},{"x":335,"y":495,"u":300,"v":497,"k":"STRP1"},{"x":425,"y":521,"u":405,"v":520,"k":"STRMU"},{"x":445,"y":490,"u":425,"v":485,"k":"STRMU"},{"x":580,"y":385,"u":592,"v":368,"k":"NA"},{"x":485,"y":550,"u":500,"v":485,"k":"NA"},{"x":515,"y":495,"u":520,"v":480,"k":"STRMU"},{"x":530,"y":510,"u":545,"v":488,"k":"STRMU"},{"x":640,"y":425,"u":672,"v":398,"k":"LISIN"},{"x":690,"y":430,"u":715,"v":410,"k":"STRTR"},{"x":770,"y":462,"u":802,"v":445,"k":"9B"},{"x":780,"y":512,"u":840,"v":500,"k":"STRMU"},{"x":680,"y":510,"u":720,"v":505,"k":"9B"},{"x":700,"y":465,"u":720,"v":450,"k":"NA"},{"x":630,"y":540,"u":650,"v":535,"k":"STRMU"},{"x":600,"y":490,"u":625,"v":470,"k":"9B"},{"x":750,"y":465,"u":770,"v":462,"k":"STRP1"},{"x":740,"y":515,"u":770,"v":510,"k":"STRP1"},{"x":615,"y":545,"u":650,"v":525,"k":"STRMU"},{"x":545,"y":600,"u":640,"v":587,"k":"NA"},{"x":575,"y":622,"u":680,"v":612,"k":"NA"},{"x":575,"y":622,"u":590,"v":615,"k":"FRATN"},{"x":550,"y":645,"u":565,"v":644,"k":"NEIM8"},{"x":507,"y":665,"u":527,"v":663,"k":"NA"},{"x":820,"y":725,"u":928,"v":742,"k":"NA"},{"x":820,"y":725,"u":850,"v":730,"k":"NEIMA"},{"x":640,"y":705,"u":660,"v":707,"k":"NEIMA"},{"x":745,"y":735,"u":790,"v":750,"k":"NA"},{"x":590,"y":735,"u":750,"v":805,"k":"NA"},{"x":590,"y":735,"u":775,"v":865,"k":"NA"},{"x":590,"y":740,"u":820,"v":940,"k":"NA"},{"x":595,"y":745,"u":800,"v":915,"k":"NA"},{"x":600,"y":750,"u":845,"v":1052,"k":"NA"},{"x":655,"y":770,"u":790,"v":915,"k":"NA"},{"x":620,"y":760,"u":770,"v":890,"k":"NA"},{"x":545,"y":760,"u":630,"v":930,"k":"NA"},{"x":600,"y":910,"u":623,"v":965,"k":"ACTNH"},{"x":555,"y":815,"u":572,"v":835,"k":"ACTNH"},{"x":565,"y":835,"u":580,"v":850,"k":"CORDI"},{"x":545,"y":980,"u":548,"v":1002,"k":"NA"},{"x":490,"y":880,"u":450,"v":1060,"k":"NA"},{"x":490,"y":880,"u":465,"v":1085,"k":"NA"},{"x":495,"y":880,"u":480,"v":1065,"k":"NA"},{"x":495,"y":880,"u":508,"v":1045,"k":"NA"},{"x":497,"y":880,"u":525,"v":1020,"k":"NA"},{"x":490,"y":880,"u":460,"v":1040,"k":"NA"},{"x":520,"y":830,"u":522,"v":850,"k":"STRMU"},{"x":510,"y":850,"u":520,"v":870,"k":"NEIMA"},{"x":530,"y":840,"u":540,"v":860,"k":"NEIMA"},{"x":50,"y":780,"u":30,"v":780,"k":"NEIM8"},{"x":140,"y":790,"u":108,"v":795,"k":"STAAU"},{"x":200,"y":790,"u":168,"v":797,"k":"NEIM8"},{"x":160,"y":825,"u":115,"v":833,"k":"PASMU"},{"x":240,"y":835,"u":222,"v":850,"k":"NEIM8"},{"x":300,"y":820,"u":240,"v":845,"k":"NEIM8"},{"x":340,"y":775,"u":300,"v":795,"k":"NEIM8"},{"x":310,"y":865,"u":285,"v":890,"k":"STRP1"},{"x":335,"y":915,"u":283,"v":950,"k":"9A"},{"x":350,"y":935,"u":310,"v":995,"k":"9A"},{"x":400,"y":860,"u":335,"v":930,"k":"STRP1"},{"x":345,"y":1020,"u":335,"v":1030,"k":"STAAU"},{"x":400,"y":900,"u":360,"v":1020,"k":"STAAU"},{"x":390,"y":930,"u":350,"v":1000,"k":"STRTR"},{"x":330,"y":1050,"u":320,"v":1068,"k":"STRP1"},{"x":415,"y":890,"u":425,"v":860,"k":"STAAU"},{"x":420,"y":800,"u":370,"v":880,"k":"9A"},{"x":320,"y":300,"u":345,"v":330,"k":"STRMU"},{"x":260,"y":320,"u":285,"v":340,"k":"STRMU"},{"x":250,"y":385,"u":275,"v":395,"k":"STRP1"},{"x":600,"y":480,"u":640,"v":450,"k":"STRMU"},{"x":660,"y":490,"u":700,"v":470,"k":"CORDI"},{"x":200,"y":775,"u":250,"v":770,"k":"PASMU"},{"x":270,"y":810,"u":315,"v":790,"k":"NEIM8"}]},"mark":{"type":"rule","strokeWidth":2.2},"encoding":{"x2":{"field":"u"},"y2":{"field":"v"},"color":{"field":"k","type":"nominal","scale":{"domain":["STRMU","LISIN","STRP1","9A","9B","STAAU","STRTR","CORDI","FRATN","PASMU","NEIM8","NEIMA","CAMJE","ACTNH","NA"],"range":["#de7a70","#ef5590","#f79420","#f97a20","#e0607d","#ef4c4a","#ea4560","#f6c7a6","#92dfe6","#3f8a5a","#45ad68","#3aa89a","#64c678","#7cce2c","#cfcfcf"]},"legend":null}}},
{"data":{"values":[{"k":"STRMU","x":0,"y":0},{"k":"LISIN","x":0,"y":0},{"k":"STRP1","x":0,"y":0},{"k":"9A","x":0,"y":0},{"k":"9B","x":0,"y":0},{"k":"STAAU","x":0,"y":0},{"k":"STRTR","x":0,"y":0},{"k":"CORDI","x":0,"y":0},{"k":"FRATN","x":0,"y":0},{"k":"PASMU","x":0,"y":0},{"k":"NEIM8","x":0,"y":0},{"k":"NEIMA","x":0,"y":0},{"k":"CAMJE","x":0,"y":0},{"k":"ACTNH","x":0,"y":0},{"k":"NA","x":0,"y":0}]},"mark":{"type":"square","size":0,"filled":true,"opacity":1},"encoding":{"color":{"field":"k","type":"nominal","scale":{"domain":["STRMU","LISIN","STRP1","9A","9B","STAAU","STRTR","CORDI","FRATN","PASMU","NEIM8","NEIMA","CAMJE","ACTNH","NA"],"range":["#de7a70","#ef5590","#f79420","#f97a20","#e0607d","#ef4c4a","#ea4560","#f6c7a6","#92dfe6","#3f8a5a","#45ad68","#3aa89a","#64c678","#7cce2c","#cfcfcf"]},"legend":{"title":null,"legendX":18,"legendY":126,"symbolType":"square","symbolSize":279,"symbolStrokeColor":"#555","symbolStrokeWidth":1,"clipHeight":19,"labelFontSize":15.8,"labelColor":"#333","labelOffset":8,"rowPadding":0.5,"labelLimit":300,"labelExpr":"{'STRMU':'CAS9_STRMU (n = 287)','LISIN':'CAS9_LISIN (n = 84)','STRP1':'CAS9_STRP1 (n = 83)','9A':'CAS9A_STRTD (n = 76)','9B':'CAS9B_STRTD (n = 71)','STAAU':'CAS9_STAAU (n = 49)','STRTR':'CAS9_STRTR (n = 13)','CORDI':'CAS9_CORDI (n = 17)','FRATN':'CAS9_FRATN (n = 1)','PASMU':'CAS9_PASMU (n = 58)','NEIM8':'CAS9_NEIM8 (n = 59)','NEIMA':'CAS9_NEIMA (n = 39)','CAMJE':'CAS9_CAMJE (n = 12)','ACTNH':'CAS9_ACTNH (n = 4)','NA':'Not-annotated (n = 577)'}[datum.label]"}}}},
{"data":{"values":[{"x":683,"y":437},{"x":621,"y":484},{"x":558,"y":623},{"x":250,"y":830},{"x":441,"y":803},{"x":351,"y":933}]},"mark":{"type":"circle","size":45,"opacity":1,"color":"#e8232a"}},
{"data":{"values":[{"x":622,"y":358,"t":"SpyCas9"},{"x":730,"y":403,"t":"St3Cas9"},{"x":660,"y":585,"t":"FnCas9"},{"x":277,"y":717,"t":"SaCas9"},{"x":82,"y":880,"t":"NmCas9"},{"x":135,"y":1020,"t":"St1Cas9"},{"x":-693,"y":87,"t":"Cas9 annotation"},{"x":-133,"y":75,"t":"Cas9 subtype"},{"x":-40,"y":411,"t":"II_A"},{"x":-40,"y":651,"t":"II_B"},{"x":-40,"y":927,"t":"II_C"}]},"mark":{"type":"text","align":"left","baseline":"middle","fontSize":16,"fontWeight":"bold","color":"#222"},"encoding":{"text":{"field":"t"}}}]}
]}
